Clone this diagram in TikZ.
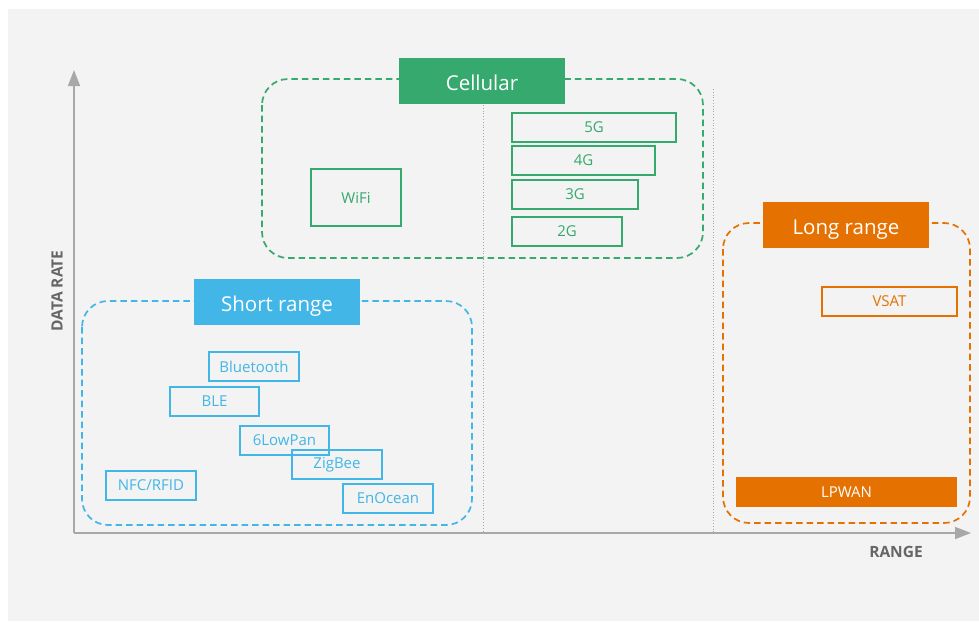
\documentclass[tikz,border=0pt]{standalone}
\usepackage{fontspec}
\setmainfont{Open Sans}
\usetikzlibrary{arrows.meta}
\definecolor{bgc}{HTML}{F2F3F2}
\definecolor{axisc}{HTML}{A8A8A8}
\definecolor{cellc}{HTML}{35A96E}
\definecolor{shortc}{HTML}{42B6E6}
\definecolor{longc}{HTML}{E57200}
\definecolor{labc}{HTML}{666666}
\tikzset{
  grp/.style={draw=#1, line width=1.7pt, dash pattern=on 6.5pt off 4pt, rounded corners=26pt},
  title/.style={fill=#1, draw=none, text=white, font=\fontsize{20.5}{24}\selectfont, inner sep=0pt, text depth=0pt, text height=0pt},
  tech/.style={draw=#1, line width=1.2pt, fill=none, text=#1, font=\fontsize{15}{17}\selectfont, inner sep=0pt},
  techfill/.style={fill=#1, draw=none, text=white, font=\fontsize{15}{17}\selectfont, inner sep=0pt},
  axis/.style={draw=axisc, line width=1.6pt, -{Triangle[width=12pt,length=16pt]}},
  divider/.style={draw=axisc, line width=0.8pt, dotted},
  axlab/.style={text=labc, font=\bfseries\fontsize{15.5}{18}\selectfont, inner sep=0pt}
}
\newcommand{\techbox}[6]{%
  \node[#1, minimum width={(#5-#3)*1pt}, minimum height={(#6-#4)*1pt}] (#2) at ({(#3+#5)/2},{(#4+#6)/2})}
\newcommand{\tlabel}[2]{\raisebox{#1}{#2}}
\begin{document}
\begin{tikzpicture}[x=1pt,y=-1pt]
\useasboundingbox (0,0) rectangle (979,621);
\fill[bgc] (8,9) rectangle (979,621);

% dividers
\coordinate (d1t) at (483,105); \coordinate (d1b) at (483,533);
\coordinate (d2t) at (713,89); \coordinate (d2b) at (713,533);
\draw[divider] (d1t) -- (d1b);
\draw[divider] (d2t) -- (d2b);

% axes
\coordinate (o) at (74,533);
\coordinate (ytip) at (74,70);
\coordinate (xtip) at (971,533);
\draw[axis] (o) -- (ytip);
\draw[axis] (o) -- (xtip);
\node[axlab, rotate=90] (ylab) at (57,291) {DATA RATE};
\node[axlab] (xlab) at (896,552) {RANGE};

% group frames
\draw[grp=cellc] (262,79) rectangle (703,258);
\draw[grp=shortc] (82,301) rectangle (472,525);
\draw[grp=longc] (723,223) rectangle (970,523);

% titles
\techbox{title=cellc}{tcell}{399}{58}{565}{104} {\tlabel{-9pt}{Cellular}};
\techbox{title=shortc}{tshort}{194}{279}{360}{325} {\tlabel{-9pt}{Short range}};
\techbox{title=longc}{tlong}{763}{202}{929}{248} {\tlabel{-9pt}{Long range}};

% cellular
\techbox{tech=cellc}{g5}{512}{113}{676}{142} {\tlabel{-1pt}{5G}};
\techbox{tech=cellc}{g4}{512}{146}{655}{175} {\tlabel{-1pt}{4G}};
\techbox{tech=cellc}{g3}{512}{180}{638}{209} {\tlabel{-1pt}{3G}};
\techbox{tech=cellc}{g2}{512}{217}{622}{246} {\tlabel{-1pt}{2G}};
\techbox{tech=cellc}{wifi}{311}{169}{401}{226} {\tlabel{-1pt}{WiFi}};

% short range
\techbox{tech=shortc}{bt}{209}{352}{299}{381} {\tlabel{-1pt}{Bluetooth}};
\techbox{tech=shortc}{ble}{170}{387}{259}{416} {\tlabel{-1pt}{BLE}};
\techbox{tech=shortc}{lowpan}{240}{426}{329}{455} {\tlabel{-1pt}{6LowPan}};
\techbox{tech=shortc}{zig}{292}{450}{382}{479} {\tlabel{-1pt}{ZigBee}};
\techbox{tech=shortc}{nfc}{106}{471}{196}{500} {\tlabel{-1pt}{NFC/RFID}};
\techbox{tech=shortc}{eno}{343}{484}{433}{513} {\tlabel{-1pt}{EnOcean}};

% long range
\techbox{tech=longc}{vsat}{822}{287}{957}{316} {\tlabel{-1pt}{VSAT}};
\techbox{techfill=longc}{lpwan}{736}{477}{957}{507} {\tlabel{-1pt}{LPWAN}};
\end{tikzpicture}
\end{document}
